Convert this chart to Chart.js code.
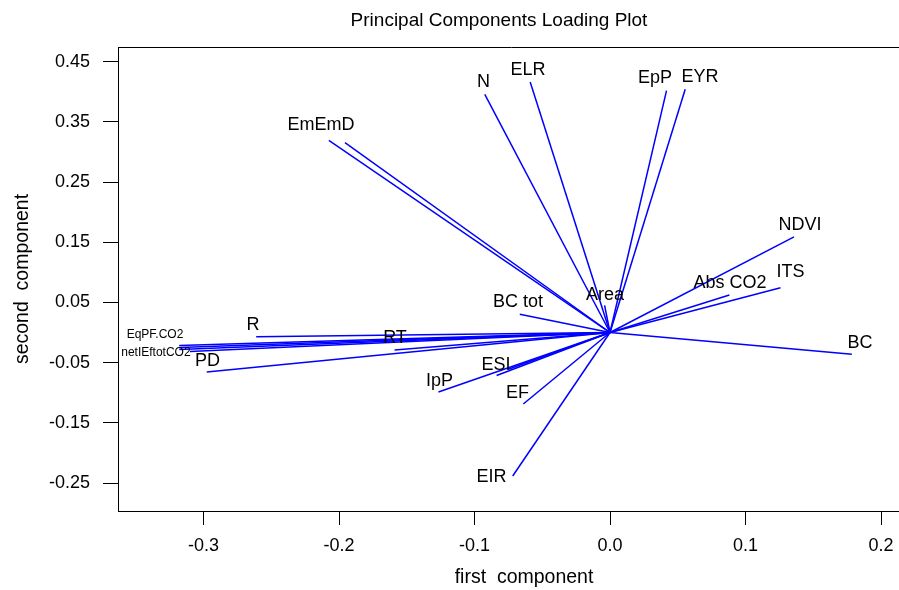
<!DOCTYPE html>
<html>
<head>
<meta charset="utf-8">
<script src="https://cdn.jsdelivr.net/npm/chart.js@4"></script>
<style>
  html, body { margin: 0; padding: 0; background: #fff; overflow: hidden; }
</style>
</head>
<body>
<canvas id="loadingPlot" width="920" height="590"></canvas>
<script>
// Loadings (end of each line from the origin)
const loadX = [-0.2075, -0.1956, -0.0924, -0.0589, 0.0417, 0.0555, -0.004, 0.1358, 0.0881, 0.1258, 0.1785,
    -0.0666, -0.0837, -0.0750, -0.1266, -0.0640, -0.0718, -0.2611, -0.1590, -0.2976,
    -0.3179, -0.3179, -0.3179, -0.3100];
const loadY = [0.3190, 0.3156, 0.3957, 0.4160, 0.4017, 0.4040, 0.045, 0.1590, 0.0623, 0.0744, -0.0362,
    0.0302, -0.0714, -0.0610, -0.0988, -0.1188, -0.2384, -0.0070, -0.0290, -0.0656,
    -0.0216, -0.0249, -0.0282, -0.0316];

// Variable names and where their text sits
const varNames = ['EmEmD', 'N', 'ELR', 'EpP', 'EYR', 'Area', 'NDVI', 'Abs CO2', 'ITS', 'BC',
    'BC tot', 'ESI', 'IpP', 'EF', 'EIR', 'R', 'RT', 'PD', 'EqPF.CO2', 'netIEftotCO2'];
const labelX = [-0.2133, -0.0934, -0.0605, 0.0332, 0.0664, -0.0037, 0.1402, 0.0886, 0.1332, 0.1845,
    -0.0679, -0.0841, -0.1258, -0.0683, -0.0875, -0.2635, -0.1587, -0.2970, -0.3358, -0.3351];
const labelY = [0.3447, 0.4161, 0.4360, 0.4228, 0.4244, 0.0623, 0.1786, 0.0822, 0.1005, -0.0174,
    0.0507, -0.0540, -0.0806, -0.0997, -0.2409, 0.0125, -0.0091, -0.0473, -0.0042, -0.0336];
const smallLabels = ['EqPF.CO2', 'netIEftotCO2'];

const xTicks = [-0.3, -0.2, -0.1, 0.0, 0.1, 0.2];
const yTicks = [-0.25, -0.15, -0.05, 0.05, 0.15, 0.25, 0.35, 0.45];

const FONT = "'Liberation Sans', Arial, Helvetica, sans-serif";

// frame top, titles and variable names
const decorations = {
    id: 'decorations',
    afterDatasetsDraw(chart) {
        const { ctx, chartArea, scales } = chart;
        ctx.save();
        ctx.strokeStyle = '#000';
        ctx.lineWidth = 1;
        ctx.beginPath();
        ctx.moveTo(chartArea.left, chartArea.top + 0.5);
        ctx.lineTo(chartArea.right, chartArea.top + 0.5);
        ctx.stroke();

        ctx.fillStyle = '#000';
        ctx.textAlign = 'center';
        ctx.textBaseline = 'middle';
        varNames.forEach((name, i) => {
            const size = smallLabels.includes(name) ? 12 : 18;
            ctx.font = size + 'px ' + FONT;
            ctx.fillText(name, scales.x.getPixelForValue(labelX[i]), scales.y.getPixelForValue(labelY[i]));
        });

        ctx.font = '19px ' + FONT;
        ctx.fillText('Principal Components Loading Plot', 499, 21);
        ctx.font = '19.5px ' + FONT;
        ctx.fillText('first  component', 524, 578);
        ctx.restore();
    }
};

new Chart(document.getElementById('loadingPlot'), {
    type: 'scatter',
    data: {
        datasets: loadX.map((x, i) => ({
            data: [{ x: 0, y: 0 }, { x: x, y: loadY[i] }],
            showLine: true,
            borderColor: '#0000ff',
            borderWidth: 1.5,
            pointRadius: 0,
            fill: false
        }))
    },
    options: {
        responsive: false,
        animation: false,
        devicePixelRatio: 1,
        layout: { padding: { top: 47, right: 15, bottom: 0, left: 0 } },
        plugins: { legend: { display: false }, tooltip: { enabled: false }, title: { display: false } },
        scales: {
            x: {
                type: 'linear',
                min: -0.3631,
                max: 0.2177,
                afterBuildTicks: s => { s.ticks = xTicks.map(v => ({ value: v })); },
                afterFit: s => { s.height = 79; },
                ticks: {
                    callback: v => v.toFixed(1),
                    color: '#000',
                    font: { family: FONT, size: 18 },
                    padding: 10,
                    maxRotation: 0,
                    autoSkip: false
                },
                grid: { drawOnChartArea: false, drawTicks: true, tickLength: 14, color: '#000' },
                border: { display: true, color: '#000', width: 1 },
                title: { display: false }
            },
            y: {
                type: 'linear',
                min: -0.2965,
                max: 0.4743,
                afterBuildTicks: s => { s.ticks = yTicks.map(v => ({ value: v })); },
                afterFit: s => { s.width = 118; },
                ticks: {
                    callback: v => v.toFixed(2),
                    color: '#000',
                    font: { family: FONT, size: 18 },
                    padding: 13,
                    autoSkip: false
                },
                grid: { drawOnChartArea: false, drawTicks: true, tickLength: 15, color: '#000' },
                border: { display: true, color: '#000', width: 1 },
                title: {
                    display: true,
                    text: 'second  component',
                    color: '#000',
                    font: { family: FONT, size: 19.5 },
                    padding: { top: 11, bottom: 0 }
                }
            }
        }
    },
    plugins: [decorations]
});
</script>
</body>
</html>
